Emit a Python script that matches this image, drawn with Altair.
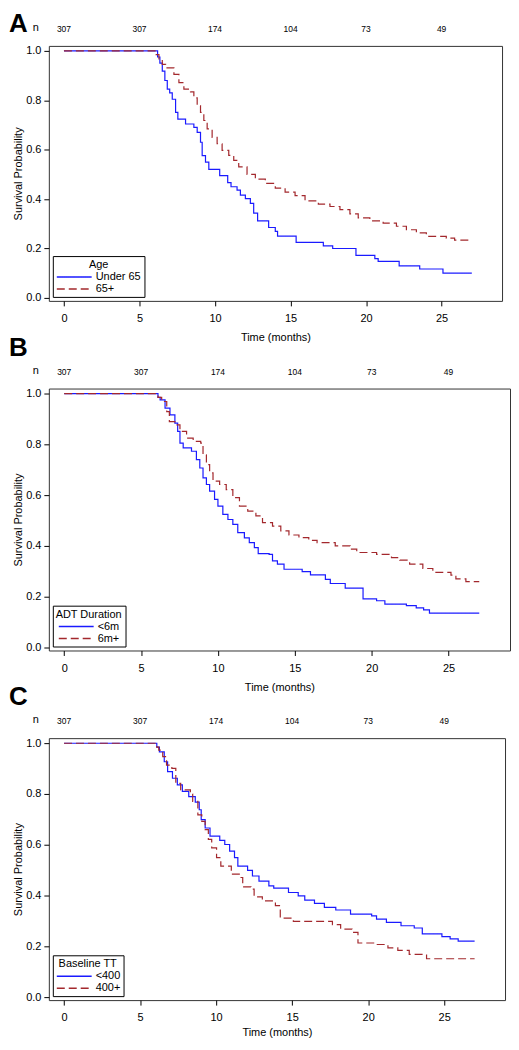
import altair as alt
import pandas as pd

FONT = "Liberation Sans"
BLUE = "#1a1aff"
RED = "#a3282d"

X_TICKS = [0, 5, 10, 15, 20, 25]
Y_TICKS = [0.0, 0.2, 0.4, 0.6, 0.8, 1.0]
N_TIMES = [0, 5, 10, 15, 20, 25]
N_AT_RISK = [307, 307, 174, 104, 73, 49]

# Panel A: Age
A_NAMES = ["Under 65", "65+"]
a_under_t = [0, 6.2, 6.35, 6.51, 6.68, 6.84, 7.0, 7.17, 7.39, 7.54, 8.05, 8.6, 8.82, 9.04, 9.15, 9.37, 9.59,
             10.31, 10.84, 11.06, 11.46, 11.68, 12.01, 12.34, 12.56, 12.82, 13.55, 13.99, 14.14, 15.37, 17.17,
             17.79, 19.33, 20.58, 20.80, 22.19, 23.55, 25.09, 27.0]
a_under_s = [1.0, 0.975, 0.95, 0.918, 0.88, 0.845, 0.83, 0.804, 0.751, 0.724, 0.704, 0.69, 0.67, 0.63, 0.576,
             0.55, 0.52, 0.495, 0.467, 0.45, 0.436, 0.416, 0.402, 0.383, 0.343, 0.312, 0.285, 0.269, 0.25, 0.225,
             0.211, 0.2, 0.172, 0.159, 0.148, 0.13, 0.117, 0.1, 0.1]
a_over_t = [0, 6.1, 6.29, 6.51, 6.73, 7.28, 7.61, 7.94, 8.38, 8.60, 8.82, 9.04, 9.26, 9.48, 9.81, 10.14, 10.47,
            10.91, 11.24, 11.57, 12.12, 12.67, 13.33, 13.99, 14.64, 15.30, 15.96, 16.84, 17.61, 18.27, 18.93,
            19.48, 20.25, 21.13, 22.01, 22.67, 23.33, 23.99, 25.31, 25.86, 27.0]
a_over_s = [1.0, 0.985, 0.965, 0.945, 0.931, 0.905, 0.871, 0.845, 0.834, 0.81, 0.778, 0.751, 0.718, 0.684, 0.65,
            0.624, 0.597, 0.577, 0.557, 0.53, 0.5, 0.481, 0.464, 0.444, 0.428, 0.414, 0.393, 0.38, 0.37, 0.357,
            0.34, 0.324, 0.312, 0.303, 0.29, 0.276, 0.263, 0.249, 0.242, 0.234, 0.234]

# Panel B: ADT Duration
B_NAMES = ["<6m", "6m+"]
b_lt_t = [0, 6.1, 6.24, 6.56, 6.88, 7.20, 7.38, 7.53, 7.74, 8.28, 8.60, 8.82, 9.03, 9.25, 9.46, 9.78, 10.0,
          10.32, 10.65, 10.97, 11.29, 11.72, 12.04, 12.37, 12.62, 13.33, 13.55, 13.87, 14.30, 15.48, 16.02,
          16.99, 17.31, 18.28, 19.44, 20.32, 20.86, 22.26, 22.9, 23.38, 23.76, 27.0]
b_lt_s = [1.0, 0.985, 0.975, 0.943, 0.916, 0.884, 0.851, 0.805, 0.786, 0.773, 0.740, 0.707, 0.668, 0.642, 0.616,
          0.583, 0.557, 0.524, 0.504, 0.485, 0.452, 0.432, 0.413, 0.393, 0.370, 0.367, 0.341, 0.328, 0.308,
          0.299, 0.286, 0.268, 0.252, 0.234, 0.191, 0.184, 0.171, 0.165, 0.156, 0.148, 0.135, 0.135]
b_ge_t = [0, 6.1, 6.34, 6.67, 6.84, 7.20, 7.53, 7.96, 8.39, 8.88, 9.03, 9.25, 9.46, 9.68, 10.11, 10.54, 10.97,
          11.40, 11.94, 12.47, 12.90, 13.55, 14.09, 14.62, 15.27, 15.91, 16.45, 17.63, 18.60, 19.03, 20.32,
          21.29, 21.83, 22.47, 23.33, 23.98, 25.16, 25.48, 26.13, 27.0]
b_ge_s = [1.0, 0.985, 0.969, 0.929, 0.890, 0.877, 0.851, 0.825, 0.812, 0.805, 0.759, 0.720, 0.688, 0.655, 0.642,
          0.622, 0.590, 0.557, 0.537, 0.518, 0.492, 0.478, 0.459, 0.443, 0.433, 0.422, 0.413, 0.400, 0.387,
          0.374, 0.367, 0.354, 0.344, 0.328, 0.311, 0.296, 0.285, 0.270, 0.259, 0.259]

# Panel C: Baseline TT
C_NAMES = ["<400", "400+"]
c_lt_t = [0, 6.1, 6.27, 6.59, 6.81, 7.13, 7.45, 7.78, 8.2, 8.63, 8.89, 9.02, 9.28, 9.6, 10.24, 10.57, 10.89,
          11.21, 11.43, 12.07, 12.39, 12.82, 13.47, 13.79, 14.76, 15.40, 15.83, 16.47, 17.12, 17.87, 18.84,
          20.23, 20.55, 21.2, 22.16, 23.03, 23.56, 24.85, 25.39, 25.92, 27.0]
c_lt_s = [1.0, 0.985, 0.966, 0.927, 0.888, 0.862, 0.836, 0.81, 0.79, 0.768, 0.738, 0.699, 0.666, 0.634, 0.617,
          0.601, 0.575, 0.549, 0.516, 0.499, 0.477, 0.457, 0.438, 0.429, 0.412, 0.399, 0.382, 0.369, 0.353,
          0.343, 0.327, 0.32, 0.307, 0.294, 0.281, 0.272, 0.249, 0.238, 0.229, 0.22, 0.22]
c_ge_t = [0, 6.1, 6.23, 6.49, 6.74, 7.09, 7.35, 7.67, 8.31, 8.46, 8.80, 9.06, 9.28, 9.49, 9.71, 10.03, 10.31,
          11.0, 11.64, 11.75, 12.29, 12.5, 13.04, 13.9, 14.22, 15.08, 17.65, 18.19, 18.94, 19.33, 20.45, 21.3,
          21.95, 22.7, 23.84, 27.0]
c_ge_s = [1.0, 0.985, 0.973, 0.947, 0.914, 0.901, 0.842, 0.816, 0.8, 0.771, 0.718, 0.692, 0.66, 0.621, 0.588,
          0.549, 0.516, 0.484, 0.471, 0.434, 0.425, 0.395, 0.379, 0.36, 0.311, 0.298, 0.285, 0.268, 0.255,
          0.213, 0.207, 0.194, 0.184, 0.168, 0.151, 0.151]

LEGEND_PROPS = dict(
    orient="bottom-left", direction="vertical", offset=4,
    strokeColor="black", fillColor="white", padding=3, cornerRadius=0,
    titleFont=FONT, titleFontSize=11, titleFontWeight="normal", titleColor="black",
    titleAnchor="middle", titlePadding=1,
    labelFont=FONT, labelFontSize=11, labelColor="black", labelOffset=28,
    symbolType="M-1,0L6,0", symbolSize=100, symbolStrokeWidth=1.5, rowPadding=1,
)


def panel(letter, legend_title, names, series, width, height, lab_pad, title_pad):
    frames = []
    for name, (t, s) in zip(names, series):
        frames.append(pd.DataFrame({"t": t, "s": s, "g": name}))
    df = pd.concat(frames, ignore_index=True)

    x = alt.X("t:Q", scale=alt.Scale(domain=[-1, 29], nice=False, zero=False),
              axis=alt.Axis(values=X_TICKS, title="Time (months)", labelPadding=lab_pad,
                            titlePadding=title_pad, format="d"))
    y = alt.Y("s:Q", scale=alt.Scale(domain=[-0.012, 1.02], nice=False, zero=False),
              axis=alt.Axis(values=Y_TICKS, format=".1f", title="Survival Probability",
                            labelPadding=3, titlePadding=2))

    lines = alt.Chart(df).mark_line(interpolate="step-after", strokeWidth=1.2).encode(
        x=x, y=y,
        color=alt.Color("g:N", scale=alt.Scale(domain=names, range=[BLUE, RED]),
                        legend=alt.Legend(title=legend_title, **LEGEND_PROPS)),
        strokeDash=alt.StrokeDash("g:N", scale=alt.Scale(domain=names, range=[[1, 0], [8, 4]]),
                                  legend=alt.Legend(title=legend_title, **LEGEND_PROPS)),
    )

    ndf = pd.DataFrame({"t": N_TIMES, "n": N_AT_RISK})
    ntext = alt.Chart(ndf).mark_text(font=FONT, fontSize=8.5, baseline="middle", color="black").encode(
        x=alt.X("t:Q"), y=alt.value(-17), text="n:Q")

    nlab = alt.Chart(alt.Data(values=[{"l": "n"}])).mark_text(
        font=FONT, fontSize=11, baseline="middle", align="center", color="black").encode(
        x=alt.value(-13), y=alt.value(-18), text="l:N")

    letter_y = -35 if letter == "A" else -54
    let = alt.Chart(alt.Data(values=[{"l": letter}])).mark_text(
        font=FONT, fontSize=26, fontWeight="bold", baseline="top", align="left", color="black").encode(
        x=alt.value(-40), y=alt.value(letter_y), text="l:N")

    return alt.layer(lines, ntext, nlab, let).properties(width=width, height=height)


pA = panel("A", "Age", A_NAMES, [(a_under_t, a_under_s), (a_over_t, a_over_s)], 455, 256, 7, 8)
pB = panel("B", "ADT Duration", B_NAMES, [(b_lt_t, b_lt_s), (b_ge_t, b_ge_s)], 463, 263, 7, 8)
pC = panel("C", "Baseline TT", C_NAMES, [(c_lt_t, c_lt_s), (c_ge_t, c_ge_s)], 458, 263, 6, 5)

chart = alt.vconcat(pA, pB, pC, spacing=88, bounds="flush").resolve_scale(
    color="independent", strokeDash="independent").properties(
    padding={"left": 0, "top": 0, "right": 0, "bottom": 0}
).configure_view(stroke="#333333", strokeWidth=1).configure_axis(
    domain=False, grid=False, tickColor="black", tickSize=5,
    labelFont=FONT, titleFont=FONT, labelFontSize=11, titleFontSize=11,
    labelColor="black", titleColor="black", titleFontWeight="normal",
)

chart.save("out.html", embed_options={"renderer": "svg", "actions": False})
